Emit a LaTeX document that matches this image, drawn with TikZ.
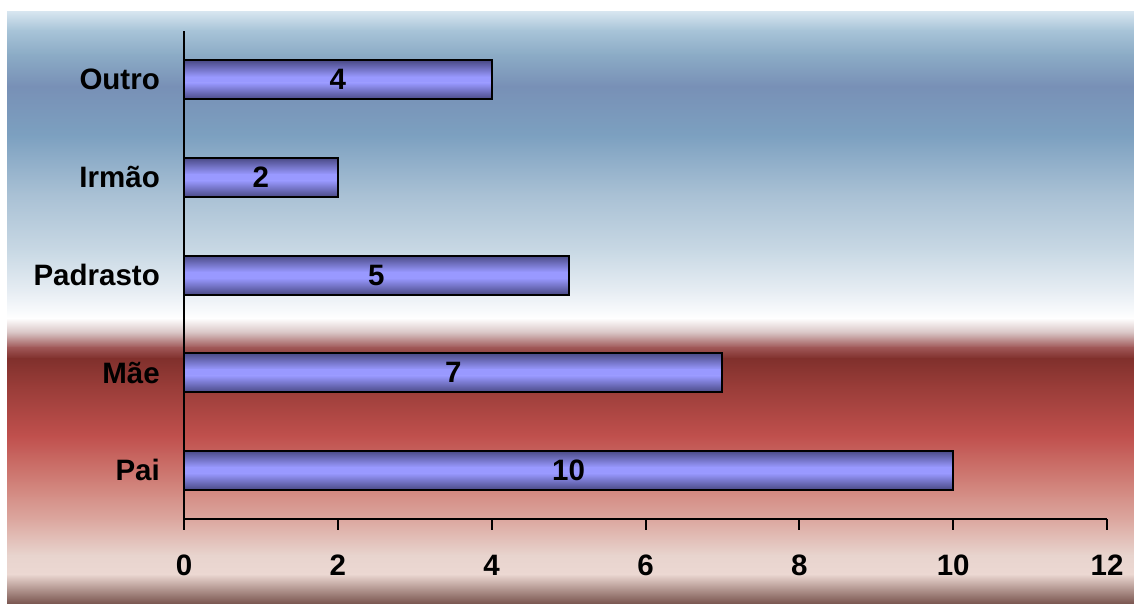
\documentclass[tikz,border=0pt]{standalone}
\usepackage{fontspec}
\setmainfont{Liberation Sans}
\definecolor{barD}{HTML}{4A4A86}
\definecolor{barL}{HTML}{9999FF}
\tikzset{
  axisline/.style={line width=2pt, black},
  barframe/.style={draw=black, line width=2pt},
  lbl/.style={font=\fontsize{29.5}{32}\selectfont\bfseries, inner sep=0pt},
  catlabel/.style={lbl, anchor=east},
  ticklabel/.style={lbl, anchor=center},
  vallabel/.style={lbl, anchor=center},
}
\begin{document}
\begin{tikzpicture}[x=1pt,y=-1pt]
\useasboundingbox (0,0) rectangle (1134,603);
\fill[white] (0,0) rectangle (1134,603);
% background gradient
\foreach \ya/\ca/\yb/\cb in {
  11/D8E6F0/30/A8C4D8, 30/A8C4D8/54/8CACC6, 54/8CACC6/86/7890B6,
  86/7890B6/135/7CA0C0, 135/7CA0C0/193/A8C0D4, 193/A8C0D4/250/C8D8E4,
  250/C8D8E4/293/E8EEF4, 293/E8EEF4/318/FFFFFF, 318/FFFFFF/333/D6C0C0,
  333/D6C0C0/347/A05858, 347/A05858/358/80302C, 358/80302C/385/983C38,
  385/983C38/436/C0504D, 436/C0504D/482/D08078, 482/D08078/520/DCA8A0,
  520/DCA8A0/555/E8D4CE, 555/E8D4CE/574/ECD8D2, 574/ECD8D2/603/7A5650}{
  \definecolor{ctop}{HTML}{\ca}\definecolor{cbot}{HTML}{\cb}
  \shade[top color=ctop, bottom color=cbot] (7,\ya) rectangle (1134,\yb+0.6);
}
% bars
\foreach \name/\txt/\val/\k in {pai/Pai/10/0, mae/Mãe/7/1, padrasto/Padrasto/5/2, irmao/Irmão/2/3, outro/Outro/4/4}{
  \pgfmathsetmacro{\yc}{519-97.6*(\k+0.5)}
  \pgfmathsetmacro{\xe}{184+76.92*\val}
  \shade[top color=barD, bottom color=barL] (184,\yc-19.5) rectangle (\xe,\yc-3);
  \fill[barL] (184,\yc-3.2) rectangle (\xe,\yc+3.2);
  \shade[top color=barL, bottom color=barD] (184,\yc+3) rectangle (\xe,\yc+19.5);
  \draw[barframe] (184,\yc-19.5) rectangle (\xe,\yc+19.5);
  \node[vallabel] (v\name) at ({(184+\xe)/2},\yc) {\val};
  \node[catlabel] (c\name) at (160,\yc) {\txt};
}
% axes
\draw[axisline] (184,31) -- (184,530);
\draw[axisline] (184,519) -- (1107,519);
\foreach \t in {0,2,...,12}{
  \draw[axisline] ({184+76.92*\t},519) -- ({184+76.92*\t},530);
  \node[ticklabel] (t\t) at ({184+76.92*\t},565) {\t};
}
\end{tikzpicture}
\end{document}
